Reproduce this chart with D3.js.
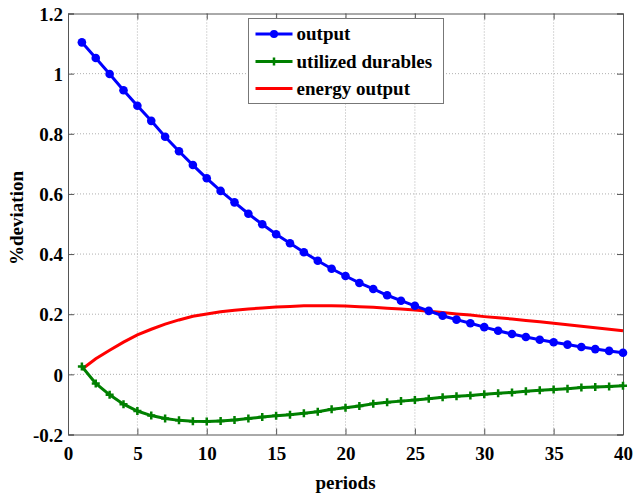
<!DOCTYPE html>
<html>
<head>
<meta charset="utf-8">
<script src="https://cdn.jsdelivr.net/npm/d3@7"></script>
<style>
  html, body { margin: 0; padding: 0; background: #fff; }
  svg { display: block; }
  text { font-family: "Liberation Serif", "Times New Roman", serif; font-weight: bold; fill: #000; }
</style>
</head>
<body>
<svg id="chart" width="634" height="495"></svg>
<script>
// Impulse responses, periods 1..40
const periods = d3.range(1, 41);

const output = [
  1.104, 1.052, 0.999, 0.945, 0.893, 0.843, 0.790, 0.742, 0.696, 0.652,
  0.610, 0.572, 0.534, 0.499, 0.466, 0.436, 0.406, 0.378, 0.351, 0.327,
  0.304, 0.284, 0.263, 0.245, 0.228, 0.211, 0.195, 0.182, 0.170, 0.157,
  0.145, 0.134, 0.124, 0.115, 0.107, 0.099, 0.091, 0.084, 0.078, 0.072
];

const utilizedDurables = [
  0.026, -0.030, -0.068, -0.099, -0.122, -0.137, -0.147, -0.153, -0.156, -0.157,
  -0.155, -0.152, -0.147, -0.142, -0.138, -0.134, -0.129, -0.124, -0.116, -0.111,
  -0.105, -0.098, -0.093, -0.089, -0.085, -0.081, -0.076, -0.073, -0.070, -0.066,
  -0.063, -0.060, -0.056, -0.053, -0.050, -0.048, -0.044, -0.042, -0.040, -0.038
];

const energyOutput = [
  0.017, 0.052, 0.080, 0.107, 0.131, 0.150, 0.167, 0.181, 0.193, 0.201,
  0.208, 0.213, 0.217, 0.221, 0.224, 0.226, 0.228, 0.228, 0.228, 0.227,
  0.225, 0.223, 0.220, 0.217, 0.214, 0.210, 0.206, 0.201, 0.197, 0.192,
  0.188, 0.184, 0.179, 0.175, 0.170, 0.165, 0.160, 0.155, 0.150, 0.145
];

const xTicks = [0, 5, 10, 15, 20, 25, 30, 35, 40];
const yTicks = [-0.2, 0, 0.2, 0.4, 0.6, 0.8, 1, 1.2];
const seriesNames = ["output", "utilized durables", "energy output"];
const seriesColors = ["#0000ff", "#008000", "#ff0000"];

const svg = d3.select("#chart");
const margin = { left: 68, right: 11, top: 13.5, bottom: 60.5 };
const W = 634, H = 495;
const x = d3.scaleLinear().domain([0, 40]).range([margin.left, W - margin.right]);
const y = d3.scaleLinear().domain([-0.2, 1.2]).range([H - margin.bottom, margin.top]);
const x0 = x.range()[0], x1 = x.range()[1], y0 = y.range()[0], y1 = y.range()[1];

// dotted grid
const grid = svg.append("g");
grid.selectAll(".gx").data(xTicks.slice(1, -1)).join("line")
  .attr("x1", d => x(d)).attr("x2", d => x(d)).attr("y1", y0).attr("y2", y1)
  .attr("stroke", "#b0b0b0").attr("stroke-width", 1).attr("stroke-dasharray", "1,2");
grid.selectAll(".gy").data(yTicks.slice(1, -1)).join("line")
  .attr("x1", x0).attr("x2", x1).attr("y1", d => y(d)).attr("y2", d => y(d))
  .attr("stroke", "#b0b0b0").attr("stroke-width", 1).attr("stroke-dasharray", "1,2");

// axes: ticks pointing inward on all four sides; plain hyphen for negatives
const fmt = d => String(+d.toFixed(1));
const axB = svg.append("g").attr("transform", `translate(0,${y0})`)
  .call(d3.axisBottom(x).tickValues(xTicks).tickSize(-6).tickPadding(12).tickFormat(fmt));
const axT = svg.append("g").attr("transform", `translate(0,${y1})`)
  .call(d3.axisTop(x).tickValues(xTicks).tickSize(-6).tickFormat(""));
const axL = svg.append("g").attr("transform", `translate(${x0},0)`)
  .call(d3.axisLeft(y).tickValues(yTicks).tickSize(-6).tickPadding(5).tickFormat(fmt));
const axR = svg.append("g").attr("transform", `translate(${x1},0)`)
  .call(d3.axisRight(y).tickValues(yTicks).tickSize(-6).tickFormat(""));
[axB, axT, axL, axR].forEach(g => {
  g.attr("font-family", null).attr("font-size", null);
  g.select(".domain").attr("stroke", "#555").attr("stroke-width", 1);
  g.selectAll(".tick line").attr("stroke", "#555");
  g.selectAll("text")
    .style("font-family", "'Liberation Serif', 'Times New Roman', serif")
    .style("font-weight", "bold").style("font-size", "19px").style("fill", "#000");
});
axB.selectAll("text").attr("dy", "0.71em");
axL.selectAll("text").attr("dy", "0.35em");

// series
const line = d3.line().x((d, i) => x(periods[i])).y(d => y(d));
const plot = svg.append("g");

plot.append("path").datum(energyOutput).attr("d", line)
  .attr("fill", "none").attr("stroke", seriesColors[2]).attr("stroke-width", 3);

plot.append("path").datum(utilizedDurables).attr("d", line)
  .attr("fill", "none").attr("stroke", seriesColors[1]).attr("stroke-width", 3);
plot.selectAll(".ud").data(utilizedDurables).join("path")
  .attr("d", (d, i) => {
    const cx = x(periods[i]), cy = y(d), r = 4;
    return `M${cx - r},${cy}H${cx + r}M${cx},${cy - r}V${cy + r}`;
  })
  .attr("stroke", seriesColors[1]).attr("stroke-width", 2.5).attr("fill", "none");

plot.append("path").datum(output).attr("d", line)
  .attr("fill", "none").attr("stroke", seriesColors[0]).attr("stroke-width", 3);
plot.selectAll(".op").data(output).join("circle")
  .attr("cx", (d, i) => x(periods[i])).attr("cy", d => y(d)).attr("r", 4.3)
  .attr("fill", seriesColors[0]);

// axis titles
svg.append("text").attr("x", (x0 + x1) / 2).attr("y", 489)
  .attr("text-anchor", "middle").attr("font-size", 19).text("periods");
svg.append("text").attr("transform", `translate(23,${(y0 + y1) / 2 - 6}) rotate(-90)`)
  .attr("text-anchor", "middle").attr("font-size", 19).text("%deviation");

// legend
const lg = svg.append("g").attr("transform", "translate(248.5,18.5)");
lg.append("rect").attr("width", 195).attr("height", 85)
  .attr("fill", "#fff").attr("stroke", "#777").attr("stroke-width", 1);
const rowY = [15.5, 43, 70];
seriesNames.forEach((name, i) => {
  const g = lg.append("g").attr("transform", `translate(0,${rowY[i]})`);
  g.append("line").attr("x1", 7).attr("x2", 44).attr("y1", 0).attr("y2", 0)
    .attr("stroke", seriesColors[i]).attr("stroke-width", 3);
  if (i === 0) g.append("circle").attr("cx", 25.5).attr("cy", 0).attr("r", 4).attr("fill", seriesColors[0]);
  if (i === 1) g.append("path").attr("d", "M21.5,0H29.5M25.5,-4V4")
    .attr("stroke", seriesColors[1]).attr("stroke-width", 2.5);
  g.append("text").attr("x", 48).attr("y", 0).attr("dy", "0.32em")
    .attr("font-size", 19).text(name);
});
</script>
</body>
</html>
